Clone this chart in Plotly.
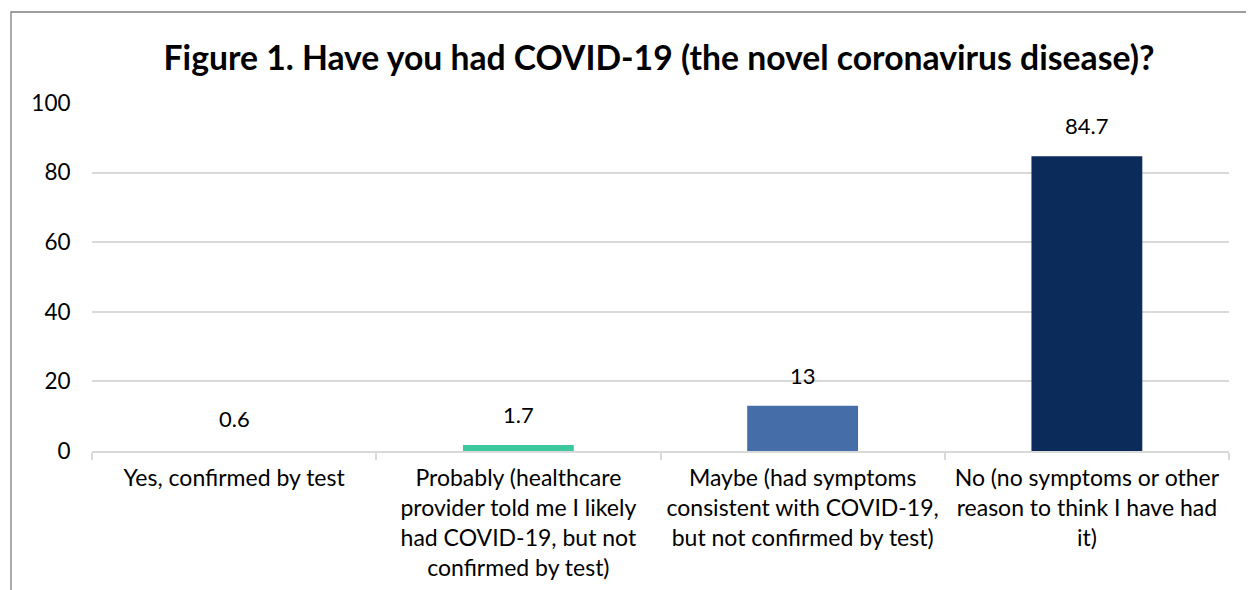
import plotly.graph_objects as go

categories = [
    "Yes, confirmed by test",
    "Probably (healthcare<br>provider told me I likely<br>had COVID-19, but not<br>confirmed by test)",
    "Maybe (had symptoms<br>consistent with COVID-19,<br>but not confirmed by test)",
    "No (no symptoms or other<br>reason to think I have had<br>it)",
]
values = [0.6, 1.7, 13, 84.7]
value_labels = ["0.6", "1.7", "13", "84.7"]
bar_colors = ["#ffffff", "#3cc89c", "#456ea9", "#0b2b5a"]
y_ticks = [0, 20, 40, 60, 80, 100]
title = "Figure 1. Have you had COVID-19 (the novel coronavirus disease)?"

FONT = "Lato, 'Noto Sans', sans-serif"

fig = go.Figure()
fig.add_trace(go.Bar(
    x=list(range(len(categories))),
    y=values,
    marker=dict(color=bar_colors, line=dict(width=0)),
    hoverinfo="skip",
))

for i, (v, t) in enumerate(zip(values, value_labels)):
    fig.add_annotation(
        x=i, y=v, text=t, showarrow=False,
        yanchor="bottom", yshift=15,
        font=dict(family=FONT, size=22, color="#000000"),
    )

fig.add_shape(
    type="rect", xref="paper", yref="paper",
    x0=-81 / 1137, x1=1.2, y0=-0.6, y1=1 + 91 / 348,
    line=dict(color="#7f7f7f", width=1.3),
    fillcolor="rgba(0,0,0,0)", layer="above",
)

fig.update_layout(
    width=1254, height=590,
    margin=dict(l=84, r=33, t=95, b=147, autoexpand=False),
    paper_bgcolor="#ffffff", plot_bgcolor="#ffffff",
    showlegend=False,
    bargap=0.61,
    font=dict(family=FONT, size=22, color="#000000"),
    title=dict(
        text="<b>" + title + "</b>",
        x=651 / 1254, xanchor="center",
        y=1 - 50 / 590, yanchor="middle",
        font=dict(family=FONT, size=33.7, color="#000000"),
    ),
)

fig.update_xaxes(
    type="category", tickson="boundaries",
    tickmode="array",
    tickvals=list(range(len(categories))),
    ticktext=categories,
    range=[-0.5, len(categories) - 0.5],
    showgrid=False,
    showline=True, linecolor="#d9d9d9", linewidth=1.5,
    ticks="outside", ticklen=7, tickcolor="#d9d9d9", tickwidth=1.5,
    tickangle=0, automargin=False,
    ticklabelstandoff=6,
    tickfont=dict(family=FONT, size=23, color="#000000"),
    zeroline=False,
)

fig.update_yaxes(
    range=[0, 100], automargin=False,
    tickmode="array", tickvals=y_ticks,
    showgrid=True, gridcolor="#d9d9d9", gridwidth=1.5,
    zeroline=False, showline=False,
    ticks="outside", ticklen=16, tickcolor="rgba(0,0,0,0)",
    tickfont=dict(family=FONT, size=22.5, color="#000000"),
)

fig.write_html("out.html")
